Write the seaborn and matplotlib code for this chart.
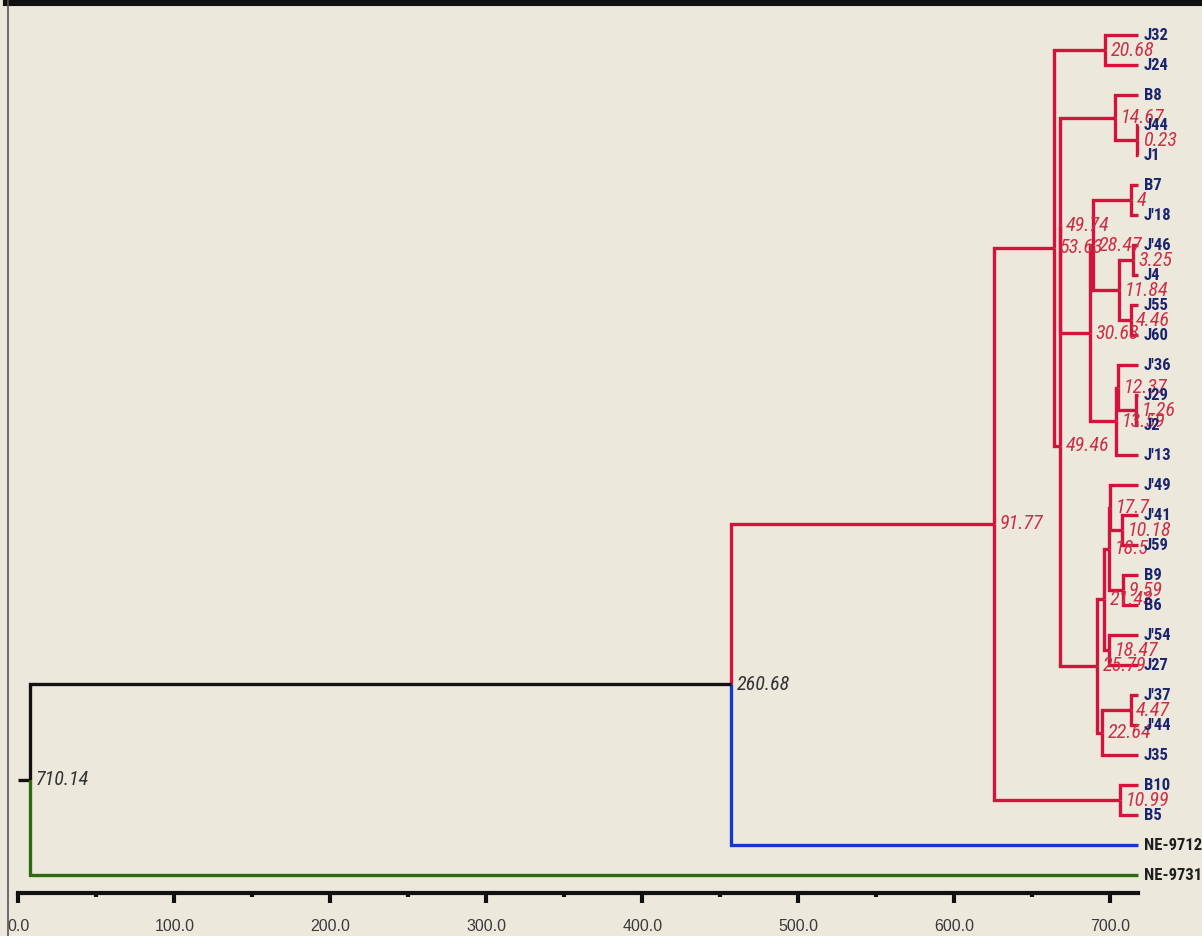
import matplotlib.pyplot as plt
import numpy as np
import pandas as pd
import seaborn as sns
from matplotlib.ticker import MultipleLocator, FixedLocator
from matplotlib.lines import Line2D

# leaves, top to bottom
leaves = ["J32", "J24", "B8", "J44", "J1", "B7", "J'18", "J'46", "J4", "J55", "J60",
          "J'36", "J29", "J2", "J'13", "J'49", "J'41", "J59", "B9", "B6", "J'54", "J27",
          "J'37", "J'44", "J35", "B10", "B5", "NE-9712", "NE-9731"]

# merges: node name, child a, child b, height
merge_nodes = ["n1", "n2", "n3", "n4", "n5", "n6", "n7", "n8", "n9", "n10", "n11", "n12", "n13",
               "n14", "n15", "n16", "n17", "n18", "n19", "n20", "n21", "n22", "n23", "n24",
               "n25", "n26", "n27", "n28"]
merge_a = ["J32", "J44", "B8", "B7", "J'46", "J55", "n5", "n4", "J29", "J'36", "n10", "n8", "n3",
           "J'41", "J'49", "B9", "n15", "J'54", "n17", "J'37", "n20", "n19", "n13", "n1",
           "B10", "n24", "n26", "n27"]
merge_b = ["J24", "J1", "n2", "J'18", "J4", "J60", "n6", "n7", "J2", "n9", "J'13", "n11", "n12",
           "J59", "n14", "B6", "n16", "J27", "n18", "J'44", "J35", "n21", "n22", "n23",
           "B5", "n25", "NE-9712", "NE-9731"]
merge_h = [20.68, 0.23, 14.67, 4, 3.25, 4.46, 11.84, 28.47, 1.26, 12.37, 13.59, 30.63, 49.74,
           10.18, 17.7, 9.59, 18.5, 18.47, 21.43, 4.47, 22.64, 25.79, 49.46, 53.63,
           10.99, 91.77, 260.68, 710.14]

# colour of the link leading into a node (default red)
link_group = {"n27": "black", "NE-9712": "blue", "NE-9731": "green", "n28": "black"}
dark_labels = ["n27", "n28", "NE-9712", "NE-9731"]

LEAF_X = 717.5
palette = {"red": "#D3133B", "black": "#111111", "blue": "#1437D2", "green": "#2E6A0E"}
bg = "#ECE9DC"

pos = {name: (LEAF_X, i) for i, name in enumerate(leaves)}
rows = []
for node, a, b, h in zip(merge_nodes, merge_a, merge_b, merge_h):
    x = LEAF_X - h
    y = (pos[a][1] + pos[b][1]) / 2
    pos[node] = (x, y)
    for child in (a, b):
        cx, cy = pos[child]
        g = link_group.get(child, "red")
        for px, py in [(x, y), (x, cy), (cx, cy)]:
            rows.append({"seg": child, "x": px, "y": py, "group": g})
rx, ry = pos[merge_nodes[-1]]
for px in (0, rx):
    rows.append({"seg": "root", "x": px, "y": ry, "group": "black"})
segs = pd.DataFrame(rows)

sns.set_theme(style="white")
narrow = ["Roboto Condensed", "Roboto", "DejaVu Sans"]

fig = plt.figure(figsize=(12.02, 9.36), dpi=100, facecolor=bg)
ax = fig.add_axes([8 / 1202, 43 / 936, 1194 / 1202, 893 / 936], facecolor=bg)

sns.lineplot(data=segs, x="x", y="y", units="seg", hue="group", palette=palette,
             estimator=None, sort=False, linewidth=2.4, legend=False, ax=ax,
             solid_joinstyle="miter", solid_capstyle="butt")

for node, h in zip(merge_nodes, merge_h):
    x, y = pos[node]
    col = "#333333" if node in dark_labels else "#CC3048"
    ax.annotate(f"{h:g}", (x, y), xytext=(4, 0), textcoords="offset points",
                ha="left", va="center", fontsize=14.5, style="italic", color=col,
                family=narrow, fontstretch="condensed")

for name in leaves:
    x, y = pos[name]
    col = "#1E1E1E" if name in dark_labels else "#1C2470"
    ax.annotate(name, (x, y), xytext=(4.5, 0), textcoords="offset points",
                ha="left", va="center", fontsize=12, fontweight="bold", color=col,
                family=narrow, fontstretch="condensed")

ax.set_xlim(-6.6, 758.8)
ax.set_ylim(28.6, -1.1667)
ax.set_xlabel("")
ax.set_ylabel("")
ax.set_yticks([])
ax.xaxis.set_major_locator(MultipleLocator(100))
ax.xaxis.set_minor_locator(FixedLocator(np.arange(50, 700, 100)))
ax.xaxis.set_major_formatter(lambda v, p: f"{v:.1f}")
ax.tick_params(axis="x", which="major", length=7, width=3, pad=12, labelsize=11.5,
               labelcolor="#3A3A3A", color="#111111", bottom=True)
ax.tick_params(axis="x", which="minor", length=3, width=3, color="#111111", bottom=True)
for lab in ax.get_xticklabels():
    lab.set_family(["Liberation Sans", "DejaVu Sans"])

ax.spines["left"].set_visible(False)
ax.spines["right"].set_visible(False)
ax.spines["bottom"].set_bounds(0, LEAF_X)
ax.spines["bottom"].set_linewidth(3)
ax.spines["bottom"].set_color("#111111")
ax.spines["top"].set_linewidth(8)
ax.spines["top"].set_color("#111111")

fig.add_artist(Line2D([8 / 1202, 8 / 1202], [0, 1], transform=fig.transFigure,
                      color="#555555", lw=1.2))

fig.savefig("out.png", dpi=100, facecolor=bg)
